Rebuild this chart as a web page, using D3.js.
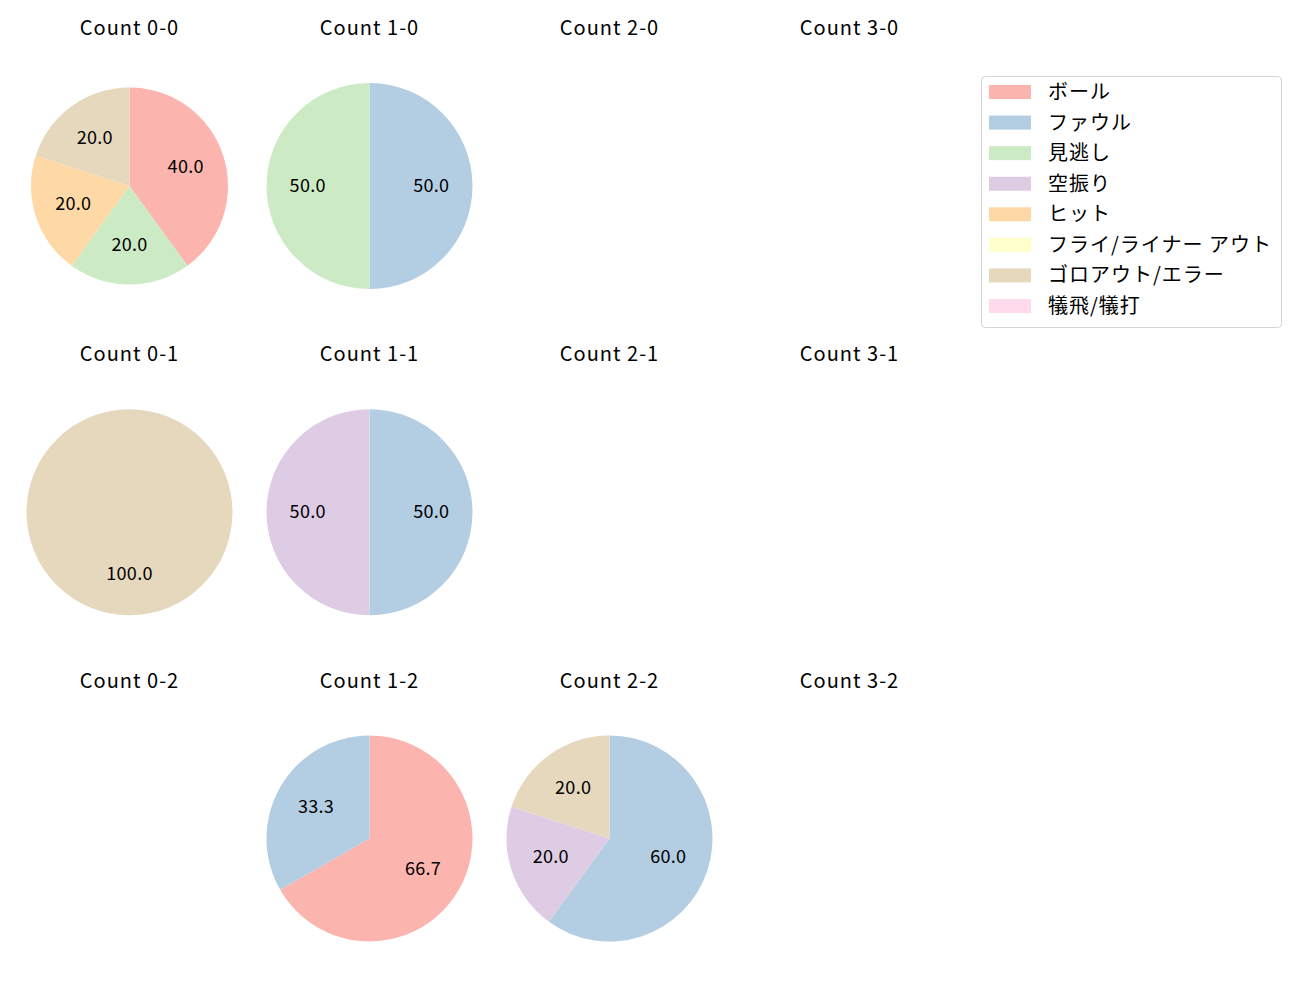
<!DOCTYPE html>
<html>
<head>
<meta charset="utf-8">
<script src="https://cdn.jsdelivr.net/npm/d3@7"></script>
<style>
  body { margin: 0; background: #fff; }
  text { font-family: "Noto Sans CJK JP", "Noto Sans", sans-serif; fill: #000; }
</style>
</head>
<body>
<svg id="chart" width="1300" height="1000"></svg>
<script>
// ---- data ----
const categories = ["ボール", "ファウル", "見逃し", "空振り", "ヒット", "フライ/ライナー アウト", "ゴロアウト/エラー", "犠飛/犠打"];
const colors = ["#fbb4ae", "#b3cde3", "#ccebc5", "#decbe4", "#fed9a6", "#ffffcc", "#e5d8bd", "#fddaec"];
const balls = [0, 1, 2, 3];
const strikes = [0, 1, 2];
// values per count, in category order (percent)
const count00 = [40.0, 0, 20.0, 0, 20.0, 0, 20.0, 0];
const count10 = [0, 50.0, 50.0, 0, 0, 0, 0, 0];
const count20 = [];
const count30 = [];
const count01 = [0, 0, 0, 0, 0, 0, 100.0, 0];
const count11 = [0, 50.0, 0, 50.0, 0, 0, 0, 0];
const count21 = [];
const count31 = [];
const count02 = [];
const count12 = [66.7, 33.3, 0, 0, 0, 0, 0, 0];
const count22 = [0, 60.0, 0, 20.0, 0, 0, 20.0, 0];
const count32 = [];
const countData = {
  "0-0": count00, "1-0": count10, "2-0": count20, "3-0": count30,
  "0-1": count01, "1-1": count11, "2-1": count21, "3-1": count31,
  "0-2": count02, "1-2": count12, "2-2": count22, "3-2": count32
};

// ---- layout ----
const svg = d3.select("#chart");
const colX = d3.scalePoint().domain(balls).range([129.5, 849.5]);
const rowY = d3.scalePoint().domain(strikes).range([186, 838.5]);
const titleOffset = 159.5;
const baseR = 103;
const radiusOverride = { "0-0": 98.5 };
const color = d3.scaleOrdinal().domain(categories).range(colors);

const pie = d3.pie().sort(null).value(d => d.v).startAngle(0).endAngle(2 * Math.PI);

strikes.forEach(s => {
  balls.forEach(b => {
    const key = `${b}-${s}`;
    const cx = colX(b), cy = rowY(s);
    const g = svg.append("g").attr("transform", `translate(${cx},${cy})`);
    g.append("text")
      .attr("x", 0).attr("y", -titleOffset)
      .attr("text-anchor", "middle")
      .attr("dominant-baseline", "central")
      .style("font-size", "20px")
      .style("letter-spacing", "1px")
      .text(`Count ${key}`);
    const vals = countData[key];
    const items = categories.map((c, i) => ({ c, v: vals[i] || 0 })).filter(d => d.v > 0);
    if (!items.length) return;
    const r = radiusOverride[key] || baseR;
    const arc = d3.arc().innerRadius(0).outerRadius(r);
    const labelArc = d3.arc().innerRadius(r * 0.6).outerRadius(r * 0.6);
    const arcs = pie(items);
    g.selectAll("path").data(arcs).join("path")
      .attr("d", arc)
      .attr("fill", d => color(d.data.c));
    g.selectAll("text.lbl").data(arcs).join("text")
      .attr("class", "lbl")
      .attr("transform", d => { const [x, y] = labelArc.centroid(d); return `translate(${x},${y - 2.5})`; })
      .attr("text-anchor", "middle")
      .attr("dominant-baseline", "central")
      .style("font-size", "18px")
      .style("letter-spacing", "0.3px")
      .text(d => d.data.v.toFixed(1));
  });
});

// ---- legend ----
const lg = svg.append("g").attr("transform", "translate(981,76)");
lg.append("rect")
  .attr("x", 0.5).attr("y", 0.5)
  .attr("width", 300).attr("height", 251)
  .attr("rx", 4).attr("ry", 4)
  .attr("fill", "#fff").attr("stroke", "#d5d5d5").attr("stroke-width", 1);
const rowScale = d3.scaleLinear().domain([0, categories.length - 1]).range([16, 230]);
categories.forEach((c, i) => {
  const y = rowScale(i);
  lg.append("rect")
    .attr("x", 8).attr("y", y - 7)
    .attr("width", 42).attr("height", 14)
    .attr("fill", color(c));
  lg.append("text")
    .attr("x", 67).attr("y", y - 1.5)
    .attr("dominant-baseline", "central")
    .style("font-size", "20px")
    .style("letter-spacing", "1px")
    .text(c);
});
</script>
</body>
</html>
